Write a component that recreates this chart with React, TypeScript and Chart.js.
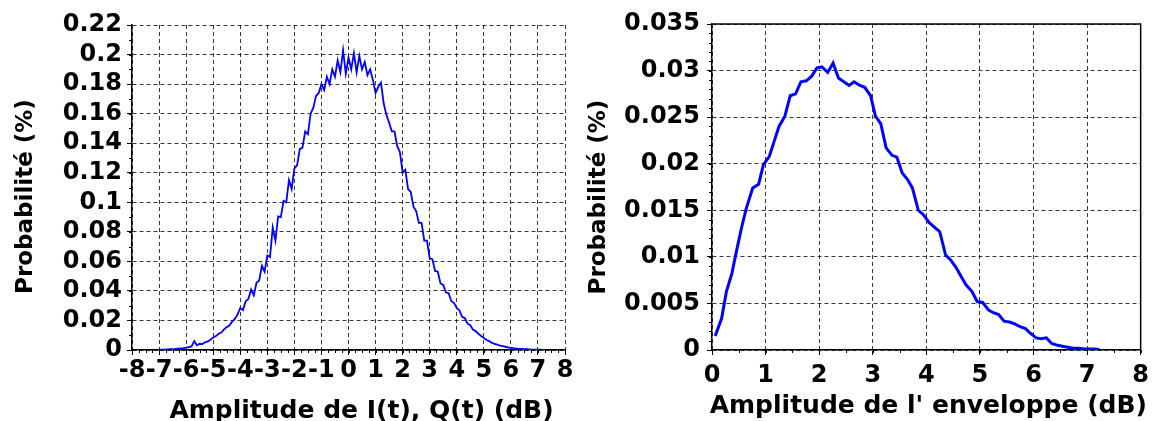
import React, { useEffect, useRef } from 'react';
import { Chart, registerables } from 'chart.js';

Chart.register(...registerables);

// ---------- Left chart: I(t), Q(t) amplitude distribution ----------
const iqX = [
  -7.0, -6.9, -6.8, -6.7, -6.6, -6.5, -6.4, -6.3, -6.2, -6.1,
  -6.0, -5.9, -5.8, -5.7, -5.6, -5.5, -5.4, -5.3, -5.2, -5.1,
  -5.0, -4.9, -4.8, -4.7, -4.6, -4.5, -4.4, -4.3, -4.2, -4.1,
  -4.0, -3.9, -3.8, -3.7, -3.6, -3.5, -3.4, -3.3, -3.2, -3.1,
  -3.0, -2.9, -2.8, -2.7, -2.6, -2.5, -2.4, -2.3, -2.2, -2.1,
  -2.0, -1.9, -1.8, -1.7, -1.6, -1.5, -1.4, -1.3, -1.2, -1.1,
  -1.0, -0.9, -0.8, -0.7, -0.6, -0.5, -0.4, -0.3, -0.2, -0.1,
  0.0, 0.1, 0.2, 0.3, 0.4, 0.5, 0.6, 0.7, 0.8, 0.9,
  1.0, 1.1, 1.2, 1.3, 1.4, 1.5, 1.6, 1.7, 1.8, 1.9,
  2.0, 2.1, 2.2, 2.3, 2.4, 2.5, 2.6, 2.7, 2.8, 2.9,
  3.0, 3.1, 3.2, 3.3, 3.4, 3.5, 3.6, 3.7, 3.8, 3.9,
  4.0, 4.1, 4.2, 4.3, 4.4, 4.5, 4.6, 4.7, 4.8, 4.9,
  5.0, 5.1, 5.2, 5.3, 5.4, 5.5, 5.6, 5.7, 5.8, 5.9,
  6.0, 6.1, 6.2, 6.3, 6.4, 6.5, 6.6, 6.7, 6.8, 6.9,
  7.0, 7.1, 7.2,
];
const iqY = [
  0.0002, 0.0003, 0.0003, 0.0004, 0.0005, 0.0006, 0.0007, 0.0009, 0.0011, 0.0013,
  0.0016, 0.0020, 0.0024, 0.0060, 0.0032, 0.0042, 0.0040, 0.0052, 0.0058, 0.0070,
  0.0085, 0.0094, 0.0110, 0.0118, 0.0140, 0.0155, 0.0165, 0.0192, 0.0210, 0.0240,
  0.0285, 0.0270, 0.0330, 0.0345, 0.0410, 0.0370, 0.0455, 0.0470, 0.0570, 0.0530,
  0.0640, 0.0630, 0.0830, 0.0740, 0.0905, 0.0900, 0.1010, 0.1000, 0.1150, 0.1090,
  0.1230, 0.1250, 0.1360, 0.1370, 0.1480, 0.1460, 0.1600, 0.1640, 0.1720, 0.1740,
  0.1800, 0.1760, 0.1850, 0.1800, 0.1900, 0.1850, 0.1960, 0.1880, 0.2030, 0.1870,
  0.1980, 0.1900, 0.2010, 0.1880, 0.1990, 0.1900, 0.1950, 0.1860, 0.1900, 0.1830,
  0.1740, 0.1780, 0.1810, 0.1670, 0.1590, 0.1540, 0.1480, 0.1480, 0.1380, 0.1340,
  0.1200, 0.1220, 0.1090, 0.1070, 0.0970, 0.0940, 0.0860, 0.0860, 0.0740, 0.0740,
  0.0620, 0.0615, 0.0535, 0.0530, 0.0450, 0.0440, 0.0390, 0.0385, 0.0330, 0.0318,
  0.0285, 0.0268, 0.0225, 0.0215, 0.0178, 0.0168, 0.0138, 0.0128, 0.0110, 0.0095,
  0.0082, 0.0068, 0.0060, 0.0048, 0.0042, 0.0036, 0.0030, 0.0026, 0.0022, 0.0018,
  0.0015, 0.0012, 0.0010, 0.0008, 0.0007, 0.0006, 0.0005, 0.0004, 0.0003, 0.0003,
  0.0002, 0.0002, 0.0001,
];

// ---------- Right chart: envelope amplitude distribution ----------
const envX = [
  0.06, 0.18, 0.27, 0.37, 0.46, 0.55, 0.64, 0.76, 0.87, 0.96,
  1.07, 1.16, 1.25, 1.36, 1.46, 1.56, 1.66, 1.76, 1.86, 1.96,
  2.05, 2.16, 2.26, 2.36, 2.46, 2.56, 2.65, 2.76, 2.85, 2.96,
  3.05, 3.15, 3.25, 3.36, 3.45, 3.55, 3.65, 3.74, 3.85, 3.95,
  4.05, 4.15, 4.25, 4.36, 4.45, 4.55, 4.65, 4.74, 4.85, 4.95,
  5.05, 5.16, 5.25, 5.35, 5.45, 5.55, 5.65, 5.75, 5.85, 5.94,
  6.05, 6.14, 6.24, 6.34, 6.45, 6.54, 6.64, 6.74, 6.85, 6.94,
  7.04, 7.14, 7.23,
];
const envY = [
  0.0015, 0.0034, 0.0063, 0.0082, 0.0107, 0.0131, 0.0152, 0.0174, 0.0178, 0.0199,
  0.0208, 0.0224, 0.0240, 0.0251, 0.0273, 0.0275, 0.0288, 0.0289, 0.0294, 0.0303,
  0.0304, 0.0298, 0.0308, 0.0292, 0.0288, 0.0284, 0.0288, 0.0284, 0.0282, 0.0273,
  0.0251, 0.0243, 0.0217, 0.0209, 0.0207, 0.0190, 0.0183, 0.0174, 0.0150, 0.0145,
  0.0137, 0.0132, 0.0127, 0.0102, 0.0097, 0.0089, 0.0079, 0.0070, 0.0063, 0.0052,
  0.0051, 0.0043, 0.0040, 0.0038, 0.0031, 0.0030, 0.0028, 0.0025, 0.0023, 0.0018,
  0.0013, 0.0012, 0.0013, 0.0007, 0.0005, 0.0004, 0.0003, 0.0002, 0.0002, 0.0001,
  0.0001, 0.0001, 0.00005,
];

// ---------- Axis settings ----------
const iqXRange = [-8, 8];
const iqXStep = 1;
const iqYRange = [0, 0.22];
const iqYStep = 0.02;
const envXRange = [0, 8];
const envXStep = 1;
const envYRange = [0, 0.035];
const envYStep = 0.005;

const yTitle = 'Probabilité (%)';
const iqXTitle = 'Amplitude de I(t), Q(t) (dB)';
const envXTitle = "Amplitude de l' enveloppe (dB)";

const FONT = "'DejaVu Sans', 'Liberation Sans', sans-serif";
Chart.defaults.font.family = FONT;
Chart.defaults.font.weight = 'bold';
Chart.defaults.color = '#000';

const fmt = (v: number) => String(Math.round(v * 100000) / 100000);

const decorPlugin = {
  id: 'decor',
  afterDraw(chart: any, _args: any, opts: any) {
    const ctx = chart.ctx;
    const xs = chart.scales.x;
    const ys = chart.scales.y;
    const area = chart.chartArea;
    ctx.save();
    ctx.strokeStyle = '#000';
    ctx.lineWidth = 1;
    ctx.setLineDash([]);
    if (opts.xStep) {
      const n = Math.round((xs.max - xs.min) / opts.xStep);
      for (let i = 0; i <= n; i++) {
        const px = Math.round(xs.getPixelForValue(xs.min + i * opts.xStep)) + 0.5;
        ctx.beginPath();
        ctx.moveTo(px, area.bottom);
        ctx.lineTo(px, area.bottom + 3);
        ctx.stroke();
      }
    }
    if (opts.yStep) {
      const n = Math.round((ys.max - ys.min) / opts.yStep);
      for (let i = 0; i <= n; i++) {
        const py = Math.round(ys.getPixelForValue(ys.min + i * opts.yStep)) + 0.5;
        ctx.beginPath();
        ctx.moveTo(area.left, py);
        ctx.lineTo(area.left - 3, py);
        ctx.stroke();
      }
    }
    if (opts.frame) {
      ctx.lineWidth = 1.5;
      ctx.beginPath();
      ctx.moveTo(area.left, area.top);
      ctx.lineTo(area.right, area.top);
      ctx.lineTo(area.right, area.bottom);
      ctx.stroke();
    }
    // axis titles
    ctx.fillStyle = '#000';
    ctx.textAlign = 'center';
    ctx.textBaseline = 'alphabetic';
    ctx.font = `bold ${opts.xTitleSize}px ${FONT}`;
    ctx.fillText(opts.xTitle, (area.left + area.right) / 2 + opts.xTitleDx, opts.xTitleBaseline);
    ctx.save();
    ctx.translate(opts.yTitleBaseline, (area.top + area.bottom) / 2 + opts.yTitleDy);
    ctx.rotate(-Math.PI / 2);
    ctx.font = `bold ${opts.yTitleSize}px ${FONT}`;
    ctx.fillText(yTitle, 0, 0);
    ctx.restore();
    ctx.restore();
  },
};

type Cfg = {
  width: number;
  height: number;
  xs: number[];
  ys: number[];
  xRange: number[];
  xStep: number;
  yRange: number[];
  yStep: number;
  xMinor: number;
  yMinor: number;
  lineWidth: number;
  xTitle: string;
  frame: boolean;
  yAxisWidth: number;
  xAxisHeight: number;
  padTop: number;
  padRight: number;
  xTickPad: number;
  yTickPad: number;
  xTitleSize: number;
  xTitleDx: number;
  xTitleBaseline: number;
  yTitleSize: number;
  yTitleDy: number;
  yTitleBaseline: number;
};

function ProbChart(cfg: Cfg) {
  const ref = useRef<HTMLCanvasElement | null>(null);
  useEffect(() => {
    if (!ref.current) return;
    const n = Math.min(cfg.xs.length, cfg.ys.length);
    const pts = [] as { x: number; y: number }[];
    for (let i = 0; i < n; i++) pts.push({ x: cfg.xs[i], y: cfg.ys[i] });
    const gridColor = 'rgba(0,0,0,0.78)';
    const chart = new Chart(ref.current, {
      type: 'line',
      data: {
        datasets: [
          {
            data: pts,
            borderColor: '#0000ff',
            borderWidth: cfg.lineWidth,
            pointRadius: 0,
            tension: 0,
            fill: false,
          },
        ],
      },
      options: {
        animation: false,
        responsive: false,
        layout: { padding: { top: cfg.padTop, right: cfg.padRight, left: 0, bottom: 0 } },
        plugins: {
          legend: { display: false },
          tooltip: { enabled: false },
          decor: {
            xStep: cfg.xMinor,
            yStep: cfg.yMinor,
            frame: cfg.frame,
            xTitle: cfg.xTitle,
            xTitleSize: cfg.xTitleSize,
            xTitleDx: cfg.xTitleDx,
            xTitleBaseline: cfg.xTitleBaseline,
            yTitleSize: cfg.yTitleSize,
            yTitleDy: cfg.yTitleDy,
            yTitleBaseline: cfg.yTitleBaseline,
          },
        } as any,
        scales: {
          x: {
            type: 'linear',
            min: cfg.xRange[0],
            max: cfg.xRange[1],
            afterFit: (s: any) => {
              s.height = cfg.xAxisHeight;
            },
            ticks: {
              stepSize: cfg.xStep,
              autoSkip: false,
              maxRotation: 0,
              padding: cfg.xTickPad,
              font: { size: 24, weight: 'bold' },
              color: '#000',
              callback: (v: any) => fmt(Number(v)),
            },
            grid: {
              color: gridColor,
              lineWidth: 1,
              tickLength: 5,
              tickColor: '#000',
              tickWidth: 1,
            },
            border: { display: true, color: '#000', width: 1.5, dash: [4, 3] },
            title: { display: false },
          },
          y: {
            type: 'linear',
            min: cfg.yRange[0],
            max: cfg.yRange[1],
            afterFit: (s: any) => {
              s.width = cfg.yAxisWidth;
            },
            ticks: {
              stepSize: cfg.yStep,
              autoSkip: false,
              padding: cfg.yTickPad,
              font: { size: 24, weight: 'bold' },
              color: '#000',
              callback: (v: any) => fmt(Number(v)),
            },
            grid: {
              color: gridColor,
              lineWidth: 1,
              tickLength: 5,
              tickColor: '#000',
              tickWidth: 1,
            },
            border: { display: true, color: '#000', width: 1.5, dash: [4, 3] },
            title: { display: false },
          },
        },
      },
      plugins: [decorPlugin],
    } as any);
    return () => chart.destroy();
  }, []);
  return (
    <canvas
      ref={ref}
      width={cfg.width}
      height={cfg.height}
      style={{ width: cfg.width, height: cfg.height, display: 'block' }}
    />
  );
}

export default function App() {
  return (
    <div style={{ position: 'absolute', left: 0, top: 0, width: 1155, height: 421, background: '#fff' }}>
      <div style={{ position: 'absolute', left: 0, top: 0 }}>
        <ProbChart
          width={577}
          height={421}
          xs={iqX}
          ys={iqY}
          xRange={iqXRange}
          xStep={iqXStep}
          yRange={iqYRange}
          yStep={iqYStep}
          xMinor={0.25}
          yMinor={0.01}
          lineWidth={1.8}
          xTitle={iqXTitle}
          frame={false}
          yAxisWidth={132}
          xAxisHeight={71}
          padTop={25}
          padRight={12}
          xTickPad={1}
          yTickPad={5}
          xTitleSize={25}
          xTitleDx={13}
          xTitleBaseline={418}
          yTitleSize={23}
          yTitleDy={9}
          yTitleBaseline={32}
        />
      </div>
      <div style={{ position: 'absolute', left: 577, top: 0 }}>
        <ProbChart
          width={578}
          height={421}
          xs={envX}
          ys={envY}
          xRange={envXRange}
          xStep={envXStep}
          yRange={envYRange}
          yStep={envYStep}
          xMinor={0.5}
          yMinor={0.001}
          lineWidth={3}
          xTitle={envXTitle}
          frame={true}
          yAxisWidth={135}
          xAxisHeight={71}
          padTop={24}
          padRight={9}
          xTickPad={6}
          yTickPad={7}
          xTitleSize={25}
          xTitleDx={2}
          xTitleBaseline={413}
          yTitleSize={23}
          yTitleDy={10}
          yTitleBaseline={28}
        />
      </div>
    </div>
  );
}
